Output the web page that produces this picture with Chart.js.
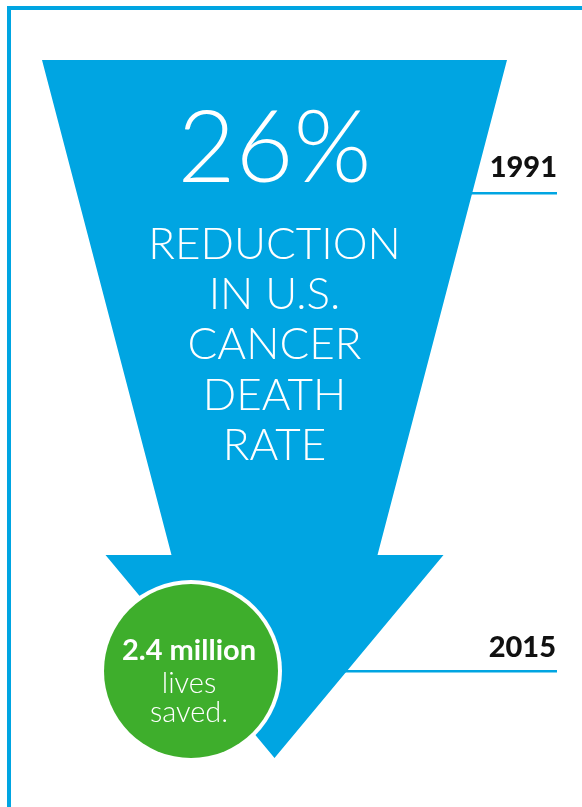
<!DOCTYPE html>
<html>
<head>
<meta charset="utf-8">
<script src="https://cdn.jsdelivr.net/npm/chart.js@4"></script>
<style>
  html, body { margin: 0; padding: 0; background: #fff; }
  #wrap { width: 582px; height: 807px; }
</style>
</head>
<body>
<div id="wrap"><canvas id="deathRateChart" width="582" height="807"></canvas></div>
<script>
const years = [1991, 2015];
const reductionPct = [26];
const headlineLines = ['REDUCTION', 'IN U.S.', 'CANCER', 'DEATH', 'RATE'];
const livesSavedMillions = [2.4];
const livesLines = ['lives', 'saved.'];

const BLUE = '#00a5e2';
const GREEN = '#3eae2c';

// draws the arrow, year markers and the lives-saved badge off the year scale
const arrowPlugin = {
    id: 'arrowPlugin',
    afterDraw(chart) {
        const ctx = chart.ctx;
        const yScale = chart.scales.y;
        const yStart = yScale.getPixelForValue(years[0]);
        const yEnd = yScale.getPixelForValue(years[1]);
        const cx = 274.5;

        ctx.save();

        // frame
        ctx.fillStyle = BLUE;
        ctx.fillRect(7, 6, chart.width - 7, 4);
        ctx.fillRect(7, 6, 4, chart.height - 6);

        // year rules, partly hidden under the arrow
        ctx.fillRect(440, yStart + 22, 117, 2.5);
        ctx.fillRect(300, yEnd + 20, 257, 2.5);

        // arrow
        const top = yStart - 110;
        const neck = yEnd - 95;
        const tip = yEnd + 108;
        ctx.beginPath();
        ctx.moveTo(cx - 232.5, top);
        ctx.lineTo(cx + 232.5, top);
        ctx.lineTo(cx + 103, neck);
        ctx.lineTo(cx + 169, neck);
        ctx.lineTo(cx, tip);
        ctx.lineTo(cx - 169, neck);
        ctx.lineTo(cx - 103, neck);
        ctx.closePath();
        ctx.fill();

        // headline
        ctx.fillStyle = '#fff';
        ctx.textAlign = 'center';
        ctx.textBaseline = 'alphabetic';
        ctx.font = '300 100px Lato';
        ctx.fillText(reductionPct[0] + '%', cx, yStart + 12);
        ctx.font = '300 44px Lato';
        headlineLines.forEach((line, i) => {
            ctx.fillText(line, cx, yStart + 89 + i * 50.2);
        });

        // year labels
        ctx.fillStyle = '#111';
        ctx.textAlign = 'right';
        ctx.font = '900 29px Lato';
        ctx.fillText(String(years[0]), 557, yStart + 7);
        ctx.fillText(String(years[1]), 556, yEnd + 7);

        // lives saved badge
        const bx = 191, by = 671, r = 87;
        ctx.beginPath();
        ctx.arc(bx, by, r + 4, 0, Math.PI * 2);
        ctx.fillStyle = '#fff';
        ctx.fill();
        ctx.beginPath();
        ctx.arc(bx, by, r, 0, Math.PI * 2);
        ctx.fillStyle = GREEN;
        ctx.fill();

        ctx.fillStyle = '#fff';
        ctx.textAlign = 'center';
        ctx.font = 'bold 29px Lato';
        ctx.fillText(livesSavedMillions[0] + ' million', 189, 660);
        ctx.font = '300 29px Lato';
        livesLines.forEach((line, i) => {
            ctx.fillText(line, 189, 693 + i * 29);
        });

        ctx.restore();
    }
};

new Chart(document.getElementById('deathRateChart'), {
    type: 'scatter',
    data: {
        datasets: [{
            data: years.map(y => ({ x: 0, y: y })),
            pointRadius: 0
        }]
    },
    options: {
        responsive: false,
        animation: false,
        layout: { padding: 0 },
        plugins: {
            legend: { display: false },
            tooltip: { enabled: false }
        },
        scales: {
            x: { display: false, min: 0, max: 582 },
            y: { display: false, reverse: true, min: 1982.5, max: 2022.85 }
        }
    },
    plugins: [arrowPlugin]
});
</script>
</body>
</html>
